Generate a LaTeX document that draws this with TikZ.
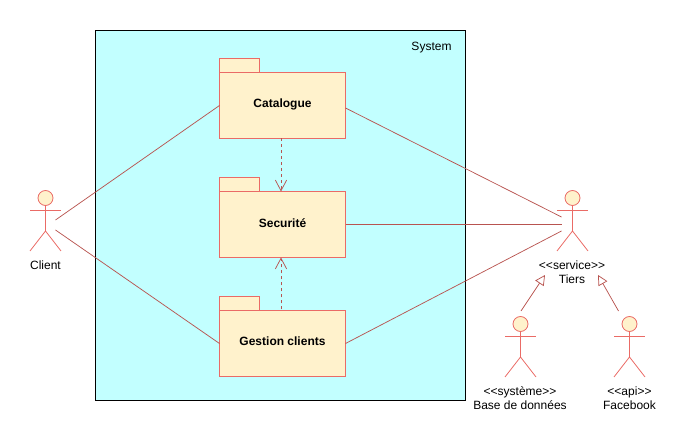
\documentclass[tikz,border=0pt]{standalone}
\usepackage{fontspec}
\setmainfont{Liberation Sans}
\usepackage{xcolor}
\usetikzlibrary{positioning}
\usetikzlibrary{arrows.meta}
\usetikzlibrary{calc}

\definecolor{sysfill}{HTML}{C2FFFF}
\definecolor{pkgfill}{HTML}{FFF2CC}
\definecolor{pkgdraw}{HTML}{EA6B66}
\definecolor{linkdraw}{HTML}{B85450}

\newcommand{\stereo}[1]{<{}<#1>{}>}

\tikzset{
	pkg/.style = {draw=pkgdraw, fill=pkgfill, line width=0.75pt, outer sep=0pt, minimum width=94.5pt, minimum height=49.5pt, inner sep=0pt, text depth=2.8pt, font=\fontsize{9pt}{10.5pt}\selectfont\bfseries},
	pkgtab/.style = {draw=pkgdraw, fill=pkgfill, line width=0.75pt, outer sep=0pt, minimum width=30pt, minimum height=10.5pt, inner sep=0pt, anchor=south west},
	link/.style = {draw=linkdraw, line width=0.55pt},
	dep/.style = {link, dash pattern=on 2.25pt off 2.25pt, -{Straight Barb[length=8pt,width=8.5pt]}},
	gen/.style = {link, -{Triangle[open,length=7.5pt,width=7.5pt]}},
	label/.style = {inner sep=0pt, align=center, font=\fontsize{9pt}{10.5pt}\selectfont},
	actor/.pic = {
		\node[circle, draw=pkgdraw, fill=pkgfill, line width=0.6pt, minimum size=11.25pt, inner sep=0pt] (head) at (0,0) {};
		\coordinate (neck) at (0,7.5);
		\coordinate (hip) at (0,33);
		\draw[draw=pkgdraw, line width=0.6pt] (head) -- (hip);
		\draw[draw=pkgdraw, line width=0.6pt] (-15.5,12) -- (15.5,12);
		\draw[draw=pkgdraw, line width=0.6pt] (-15.5,53) -- (hip) -- (15.5,53);
	}
}

\begin{document}
\begin{tikzpicture}[x=0.75pt, y=-0.75pt]
\useasboundingbox (0,0) rectangle (686,441);

\node[draw=black, fill=sysfill, line width=0.75pt, outer sep=0pt, minimum width=277.5pt, minimum height=277.5pt, anchor=north west] (system) at (95.5,30.5) {};
\node[label] (systemlabel) at (431.5,47.5) {System};

\node[pkg] (catalogue) at (282.5,105.5) {Catalogue};
\node[pkg] (securite) at (282.5,224.5) {Securit\'e};
\node[pkg] (gestion) at (282.5,343.5) {Gestion clients};
\node[pkgtab] (cataloguetab) at (catalogue.north west) {};
\node[pkgtab] (securitetab) at (securite.north west) {};
\node[pkgtab] (gestiontab) at (gestion.north west) {};

\pic (client) at (45.5,198) {actor};
\pic (tiers) at (572.5,198) {actor};
\pic (base) at (520.5,324) {actor};
\pic (facebook) at (629.5,324) {actor};

\node[label] (clientlabel) at (45.5,265) {Client};
\node[label] (tierslabel) at (572,272) {\stereo{service}\\Tiers};
\node[label] (baselabel) at (520,398) {\stereo{syst\`eme}\\Base de donn\'ees};
\node[label] (facebooklabel) at (629.5,398) {\stereo{api}\\Facebook};

\coordinate (clienttop) at (55.5,220);
\coordinate (clientbottom) at (55.5,230);
\coordinate (tierstop) at (561.5,217);
\coordinate (tiersmid) at (561.5,224.5);
\coordinate (tiersbottom) at (561.5,231);
\coordinate (basetip) at (545,275);
\coordinate (basefoot) at (521,311);
\coordinate (facebooktip) at (598,275);
\coordinate (facebookfoot) at (618.5,311);

\draw[link] (clienttop) -- (catalogue.west);
\draw[link] (clientbottom) -- (gestion.west);
\draw[link] ($(catalogue.east)+(0,2.5)$) -- (tierstop);
\draw[link] (securite.east) -- (tiersmid);
\draw[link] (gestion.east) -- (tiersbottom);

\draw[dep] ($(catalogue.south)+(-1.5,0)$) -- ($(securite.north)+(-1.5,0)$);
\draw[dep] ($(gestion.north)+(-1.5,-1)$) -- ($(securite.south)+(-1.5,0)$);

\draw[gen] (basefoot) -- (basetip);
\draw[gen] (facebookfoot) -- (facebooktip);
\end{tikzpicture}
\end{document}
